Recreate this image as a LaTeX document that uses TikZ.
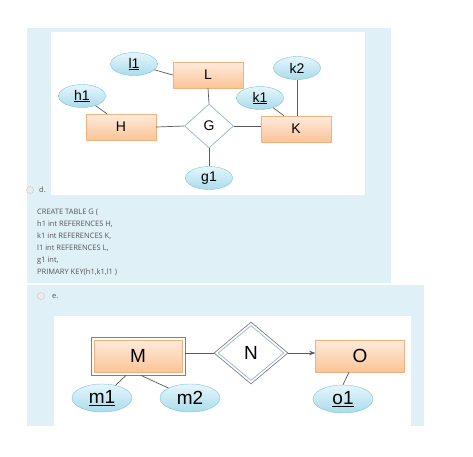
\documentclass[tikz,border=0pt]{standalone}
\usepackage{fontspec}
\setmainfont{Liberation Sans}
\newfontfamily\uifont{Open Sans}
\usetikzlibrary{shapes.geometric,arrows.meta,fit}
\definecolor{panelblue}{HTML}{DFF0F7}
\definecolor{rectedge}{HTML}{F2B27F}
\definecolor{recttop}{HTML}{FEEBDD}
\definecolor{rectbot}{HTML}{FAC497}
\definecolor{elledge}{HTML}{7EC5DA}
\definecolor{elltop}{HTML}{E6F6FB}
\definecolor{ellbot}{HTML}{A9DCEB}
\definecolor{diaedge}{HTML}{A3BAD8}
\definecolor{linkgray}{HTML}{5A5A5A}
\definecolor{txtgray}{HTML}{555555}
\tikzset{
  entity/.style={rectangle,draw=rectedge,top color=recttop,bottom color=rectbot,
    minimum width=70pt,minimum height=26pt,inner sep=0pt,font=\fontsize{14}{14}\selectfont},
  attrib/.style={ellipse,draw=elledge,top color=elltop,bottom color=ellbot,
    minimum width=47pt,minimum height=23pt,inner sep=0pt,font=\fontsize{14}{14}\selectfont},
  relship/.style={diamond,draw=diaedge,line width=0.8pt,fill=white,inner sep=0pt,
    minimum width=49pt,minimum height=44pt,font=\fontsize{14}{14}\selectfont},
  link/.style={draw=linkgray,line width=0.7pt},
  radio/.style={circle,draw=gray!45,fill=gray!15,minimum size=7pt,inner sep=0pt},
  choice/.style={font=\uifont\fontsize{7.5}{7.5}\selectfont,text=txtgray,inner sep=0pt,anchor=west}
}
\begin{document}
\begin{tikzpicture}[x=1pt,y=-1pt,>=Stealth]
  \useasboundingbox (0,0) rectangle (473,456);
  \fill[white] (0,0) rectangle (473,456);
  % panels
  \fill[panelblue] (27,28) rectangle (391,283);
  \fill[panelblue] (27,285) rectangle (424,426);
  \fill[white] (51,32) rectangle (365,195);
  \fill[white] (54,316) rectangle (411,426);
  % option d
  \node[radio] (rd) at (30,190) {};
  \node[choice] (ld) at (39,190) {d.};
  \node[choice,anchor=north west,align=left,font=\uifont\fontsize{7.5}{12}\selectfont]
    (sql) at (37,209) {CREATE TABLE G (\\h1 int REFERENCES H,\\k1 int REFERENCES K,\\
    l1 int REFERENCES L,\\g1 int,\\PRIMARY KEY(h1,k1,l1 )};
  % option e
  \node[radio] (re) at (41,296) {};
  \node[choice] (le) at (52,296) {e.};
  % diagram d
  \node[entity] (L) at (208,75) {L};
  \node[entity] (H) at (121,127) {H};
  \node[entity] (K) at (296,129) {K};
  \node[relship] (G) at (209,126) {G};
  \node[attrib] (l1) at (134,64) {\underline{l1}};
  \node[attrib] (h1) at (82,96) {\underline{h1}};
  \node[attrib] (k1) at (260,98) {\underline{k1}};
  \node[attrib] (k2) at (297,68) {k2};
  \node[attrib] (g1) at (209,178) {g1};
  \draw[link] (l1) -- (L.west);
  \draw[link] (h1) -- ([xshift=-14pt]H.north);
  \draw[link] (k1) -- ([xshift=-12pt]K.north);
  \draw[link] (k2.south) -- (k2.south |- K.north);
  \draw[link] (L.south) -- (G.north);
  \draw[link] (H.east) -- (G.west);
  \draw[link] (G.east) -- (K.west |- G.east);
  \draw[link] (G.south) -- (g1.north);
  % diagram e
  \node[entity,minimum width=88pt,minimum height=32pt,font=\fontsize{19}{19}\selectfont] (M) at (138,356) {M};
  \node[fit=(M),draw=gray,inner sep=3pt] (Mbox) {};
  \node[entity,minimum width=89pt,minimum height=32pt,font=\fontsize{19}{19}\selectfont] (O) at (360,356) {O};
  \node[relship,draw=gray,line width=0.7pt,minimum width=74pt,minimum height=62pt] (Nbox) at (251,353) {};
  \node[relship,minimum width=66pt,minimum height=55pt,font=\fontsize{19}{19}\selectfont] (N) at (251,353) {N};
  \node[attrib,minimum width=60pt,minimum height=28pt,font=\fontsize{19}{19}\selectfont] (m1) at (102,398) {\underline{m1}};
  \node[attrib,minimum width=60pt,minimum height=28pt,font=\fontsize{19}{19}\selectfont] (m2) at (190,398) {m2};
  \node[attrib,minimum width=60pt,minimum height=28pt,font=\fontsize{19}{19}\selectfont] (o1) at (343,399) {\underline{o1}};
  \draw[link] (Mbox.east |- Nbox.west) -- (Nbox.west);
  \draw[link,->] (Nbox.east) -- (O.west |- Nbox.east);
  \draw[link] (m1) -- ([xshift=-12pt]Mbox.south);
  \draw[link] ([xshift=3pt]Mbox.south) -- (m2);
  \draw[link] ([xshift=-11pt]O.south) -- (o1.north);
\end{tikzpicture}
\end{document}
